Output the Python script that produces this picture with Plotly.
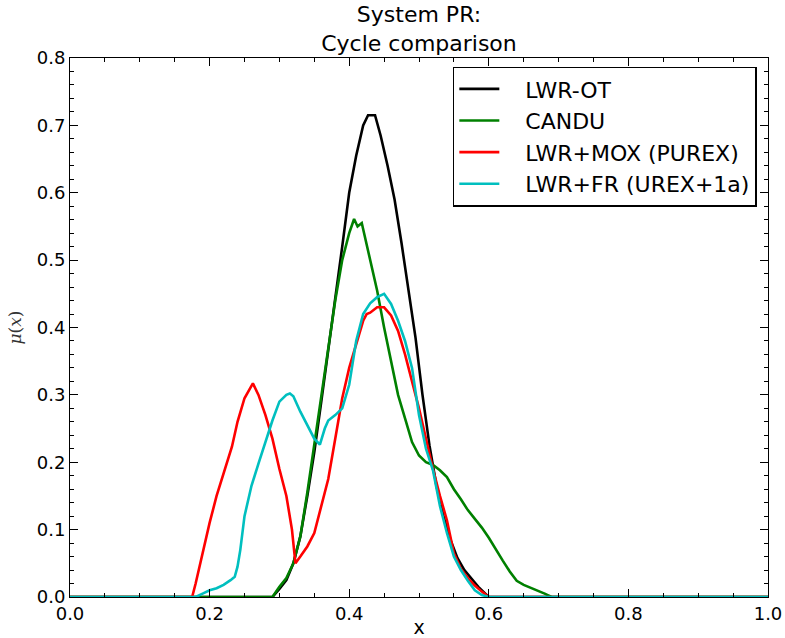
import plotly.graph_objects as go

# Membership functions mu(x) for each fuel cycle, sampled along x
lwr_ot_x = [0, 0.29, 0.30, 0.31, 0.32, 0.33, 0.34, 0.35, 0.36, 0.37, 0.38, 0.39, 0.40, 0.41, 0.42,
            0.427, 0.437, 0.445, 0.455, 0.465, 0.475, 0.485, 0.495, 0.505, 0.515, 0.525, 0.535,
            0.545, 0.555, 0.565, 0.575, 0.585, 0.595, 0.60, 1.0]
lwr_ot_y = [0, 0, 0.012, 0.025, 0.05, 0.09, 0.15, 0.215, 0.29, 0.365, 0.44, 0.52, 0.60, 0.655, 0.70,
            0.715, 0.715, 0.685, 0.64, 0.59, 0.525, 0.455, 0.385, 0.30, 0.225, 0.165, 0.12,
            0.085, 0.058, 0.04, 0.028, 0.015, 0.005, 0, 0]

candu_x = [0, 0.29, 0.30, 0.31, 0.32, 0.33, 0.34, 0.35, 0.36, 0.37, 0.38, 0.39, 0.40, 0.407,
           0.412, 0.418, 0.43, 0.44, 0.45, 0.46, 0.47, 0.48, 0.49, 0.50, 0.51, 0.52, 0.53, 0.54,
           0.55, 0.56, 0.57, 0.58, 0.59, 0.60, 0.61, 0.62, 0.63, 0.64, 0.65, 0.66, 0.67, 0.68,
           0.69, 1.0]
candu_y = [0, 0, 0.015, 0.028, 0.05, 0.09, 0.155, 0.225, 0.30, 0.37, 0.44, 0.50, 0.54, 0.561,
           0.55, 0.555, 0.50, 0.455, 0.40, 0.35, 0.30, 0.265, 0.23, 0.21, 0.20, 0.196, 0.188, 0.178,
           0.16, 0.145, 0.129, 0.116, 0.103, 0.088, 0.07, 0.054, 0.038, 0.024, 0.018, 0.014, 0.01,
           0.005, 0, 0]

mox_x = [0, 0.175, 0.18, 0.19, 0.20, 0.21, 0.22, 0.232, 0.24, 0.25, 0.262, 0.27, 0.28, 0.29,
         0.30, 0.31, 0.318, 0.323, 0.33, 0.34, 0.35, 0.36, 0.37, 0.38, 0.39, 0.40, 0.41, 0.42,
         0.425, 0.43, 0.44, 0.45, 0.46, 0.47, 0.48, 0.49, 0.50, 0.51, 0.52, 0.53, 0.54, 0.55,
         0.56, 0.57, 0.58, 0.59, 0.60, 1.0]
mox_y = [0, 0, 0.02, 0.065, 0.11, 0.15, 0.184, 0.223, 0.26, 0.295, 0.317, 0.30, 0.27, 0.235,
         0.19, 0.15, 0.10, 0.05, 0.06, 0.075, 0.095, 0.135, 0.175, 0.235, 0.295, 0.34, 0.375, 0.41,
         0.42, 0.422, 0.43, 0.43, 0.418, 0.395, 0.36, 0.322, 0.28, 0.235, 0.19, 0.15, 0.114, 0.065,
         0.042, 0.028, 0.017, 0.008, 0, 0]

fr_x = [0, 0.18, 0.19, 0.20, 0.21, 0.22, 0.23, 0.236, 0.24, 0.244, 0.25, 0.26, 0.27, 0.28, 0.29,
        0.30, 0.31, 0.315, 0.32, 0.33, 0.34, 0.35, 0.358, 0.365, 0.37, 0.38, 0.39, 0.40, 0.41,
        0.42, 0.43, 0.44, 0.45, 0.46, 0.47, 0.48, 0.49, 0.50, 0.51, 0.52, 0.53, 0.54, 0.55, 0.56,
        0.57, 0.58, 0.59, 0.60, 1.0]
fr_y = [0, 0, 0.005, 0.01, 0.013, 0.018, 0.025, 0.03, 0.045, 0.07, 0.12, 0.165, 0.198, 0.23, 0.262,
        0.29, 0.30, 0.302, 0.298, 0.275, 0.255, 0.235, 0.226, 0.25, 0.262, 0.27, 0.28, 0.315, 0.38,
        0.42, 0.436, 0.445, 0.45, 0.435, 0.41, 0.38, 0.34, 0.27, 0.22, 0.188, 0.135, 0.095, 0.06,
        0.04, 0.024, 0.01, 0.003, 0, 0]

series = [
    ("LWR-OT", lwr_ot_x, lwr_ot_y, "#000000"),
    ("CANDU", candu_x, candu_y, "#008000"),
    ("LWR+MOX (PUREX)", mox_x, mox_y, "#ff0000"),
    ("LWR+FR (UREX+1a)", fr_x, fr_y, "#00bfbf"),
]

x_ticks = [0.0, 0.2, 0.4, 0.6, 0.8, 1.0]
y_ticks = [0.0, 0.1, 0.2, 0.3, 0.4, 0.5, 0.6, 0.7, 0.8]

FONT = "DejaVu Sans"
# extra room between the legend line sample and its label
LEGEND_GAP = "\u00a0" * 3

fig = go.Figure()
for name, xs, ys, color in series:
    fig.add_trace(go.Scatter(x=xs, y=ys, mode="lines", name=LEGEND_GAP + name,
                             line=dict(color=color, width=2.6)))

axis_common = dict(
    showgrid=False, zeroline=False, showline=True, linecolor="black", linewidth=1,
    mirror="allticks", ticks="inside", ticklen=8, tickwidth=1, tickcolor="black",
    tickfont=dict(family=FONT, size=18, color="black"), automargin=False,
)

fig.update_layout(
    width=785, height=638,
    margin=dict(l=70, r=17, t=58, b=41),
    paper_bgcolor="white", plot_bgcolor="white",
    font=dict(family=FONT, color="black"),
    title=dict(text="System PR:<br>Cycle comparison", x=0.5, xref="paper",
               y=0.965, yref="container", yanchor="top",
               font=dict(family=FONT, size=22, color="black")),
    xaxis=dict(range=[0, 1], tickvals=x_ticks, tickformat=".1f",
               title=dict(text="x", font=dict(family=FONT, size=19), standoff=4),
               minor=dict(dtick=0.05, ticks="inside", ticklen=4, tickcolor="black", showgrid=False),
               **axis_common),
    yaxis=dict(range=[0, 0.8], tickvals=y_ticks, tickformat=".1f",
               title=dict(text="<i>μ</i>(<i>x</i>)",
                          font=dict(family="DejaVu Serif", size=17, color="#333333"), standoff=10),
               minor=dict(dtick=0.02, ticks="inside", ticklen=4, tickcolor="black", showgrid=False),
               **axis_common),
    legend=dict(x=0.984, y=0.984, xanchor="right", yanchor="top",
                bordercolor="black", borderwidth=1.5, bgcolor="white",
                font=dict(family=FONT, size=22, color="black"),
                tracegroupgap=0, itemwidth=40),
    showlegend=True,
)

fig.write_html("out.html")
